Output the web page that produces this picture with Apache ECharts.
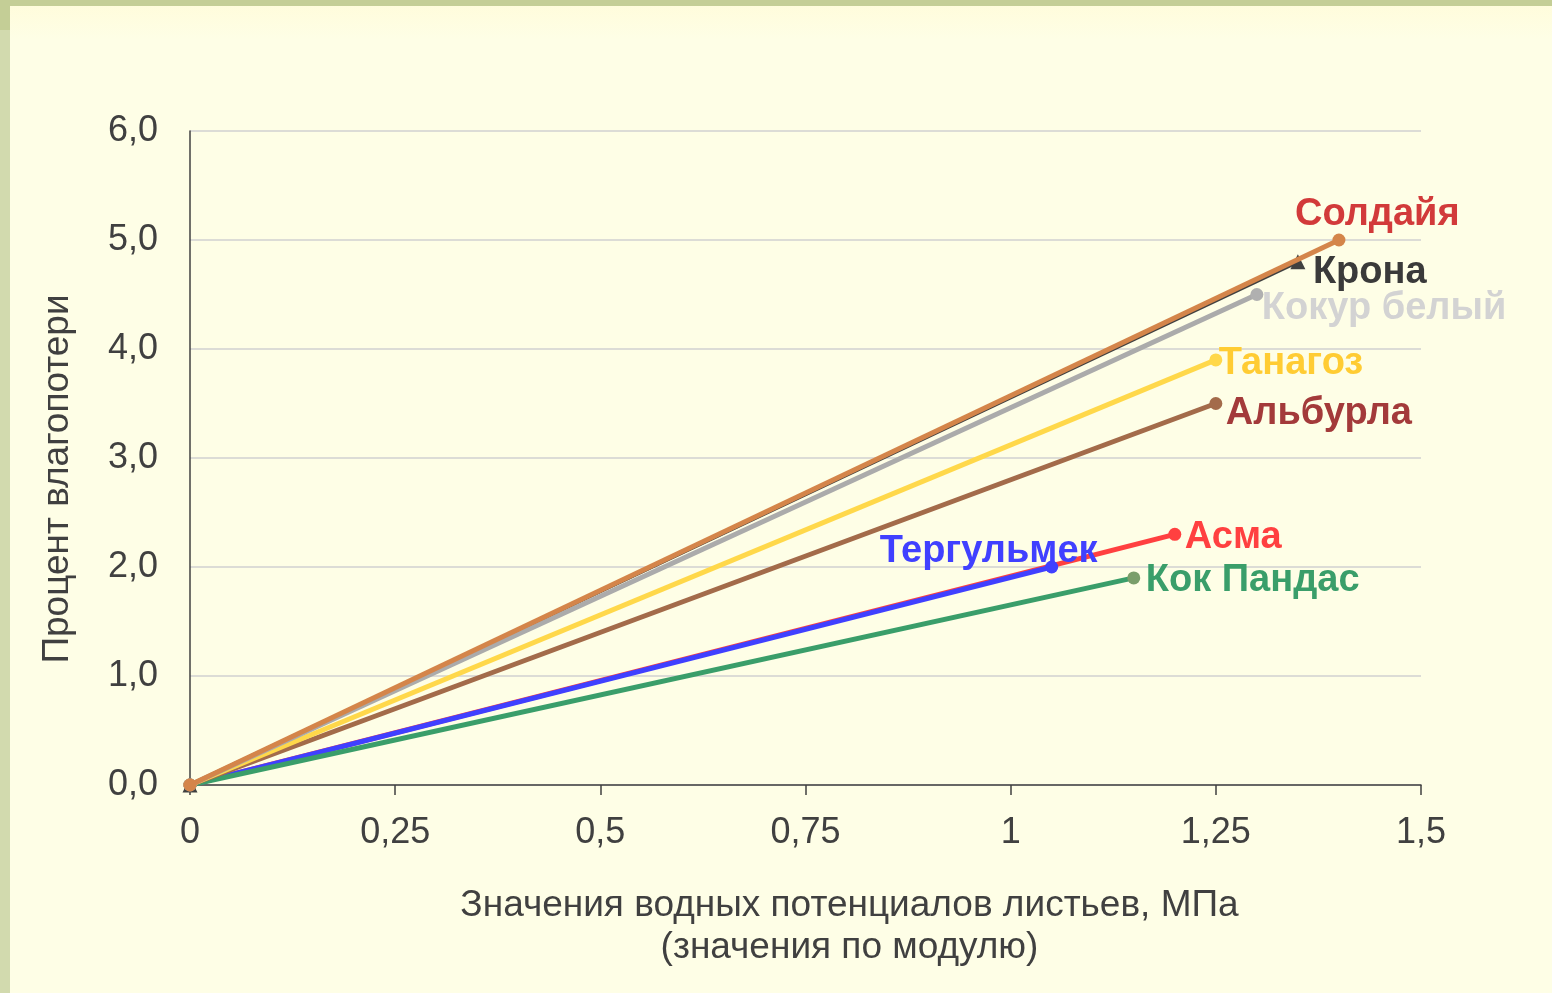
<!DOCTYPE html>
<html>
<head>
<meta charset="utf-8">
<script src="https://cdn.jsdelivr.net/npm/echarts@6/dist/echarts.min.js"></script>
<style>
  html, body { margin: 0; padding: 0; background: #fefee6; }
  #chart { width: 1552px; height: 993px; }
</style>
</head>
<body>
<div id="chart"></div>
<script>
// Cultivar names (end labels)
const cultivars = ['Асма', 'Тергульмек', 'Кок Пандас', 'Альбурла', 'Танагоз', 'Крона', 'Солдайя', 'Кокур белый'];
// Leaf water potential (absolute value, MPa): start and end of each line
const potentialStart = [0, 0, 0, 0, 0, 0, 0, 0];
const potentialEnd = [1.2, 1.05, 1.15, 1.25, 1.25, 1.35, 1.4, 1.3];
// Water loss, %: start and end of each line
const lossStart = [0, 0, 0, 0, 0, 0, 0, 0];
const lossEnd = [2.3, 2.0, 1.9, 3.5, 3.9, 4.8, 5.0, 4.5];
// Axis tick labels
const xTickLabels = { 0: '0', 0.25: '0,25', 0.5: '0,5', 0.75: '0,75', 1: '1', 1.25: '1,25', 1.5: '1,5' };

const lineColors = ['#ff4040', '#4040ff', '#3a9e6a', '#a36b4a', '#ffd84a', '#404040', '#d4854a', '#ababab'];
const markerColors = ['#ff4040', '#4040ff', '#7a9e6a', '#a36b4a', '#ffd84a', '#404040', '#d4854a', '#b0b0b0'];
const labelColors = ['#ff4040', '#4040ff', '#3a9e6a', '#a33a3a', '#ffcc33', '#3a3a3a', '#d23a3a', '#d3d3d3'];
const labelOffsets = [[10, 3], [-172, -15], [12, 3], [10, 10], [3, 4], [15, 11], [-44, -25], [5, 14]];
const lineWidths = [5, 5, 5, 5, 5, 4, 5, 5];
const symbols = ['circle', 'circle', 'circle', 'circle', 'circle', 'triangle', 'circle', 'circle'];
const lineZ = [2, 3, 4, 5, 6, 7, 9, 8];

const series = cultivars.map((name, i) => ({
  name: name,
  type: 'line',
  z: lineZ[i],
  data: [
    { value: [potentialStart[i], lossStart[i]], label: { show: false } },
    [potentialEnd[i], lossEnd[i]]
  ],
  symbol: symbols[i],
  symbolSize: symbols[i] === 'triangle' ? 15 : 13,
  lineStyle: { color: lineColors[i], width: lineWidths[i] },
  itemStyle: { color: markerColors[i] },
  label: {
    show: true,
    formatter: name,
    position: 'inside',
    align: 'left',
    verticalAlign: 'middle',
    offset: labelOffsets[i],
    color: labelColors[i],
    fontFamily: 'Liberation Sans, Arial, sans-serif',
    fontWeight: 'bold',
    fontSize: 38
  },
  emphasis: { disabled: true },
  animation: false
}));

const chart = echarts.init(document.getElementById('chart'), null, { renderer: 'canvas' });
chart.setOption({
  backgroundColor: {
    type: 'linear', x: 0, y: 0, x2: 0, y2: 1,
    colorStops: [
      { offset: 0, color: '#fffcda' },
      { offset: 0.04, color: '#fefee6' },
      { offset: 1, color: '#fefee6' }
    ]
  },
  animation: false,
  graphic: [
    { type: 'rect', left: 0, top: 0, shape: { width: 1552, height: 6 }, style: { fill: '#c4ce96' }, z: 100 },
    { type: 'rect', left: 0, top: 6, shape: { width: 10, height: 24 }, style: { fill: '#c4ce96' }, z: 100 },
    { type: 'rect', left: 0, top: 30, shape: { width: 10, height: 963 }, style: { fill: '#d2daae' }, z: 100 }
  ],
  grid: { left: 190, right: 131, top: 131, bottom: 208, containLabel: false },
  xAxis: {
    type: 'value',
    min: 0, max: 1.5, interval: 0.25,
    name: 'Значения водных потенциалов листьев, МПа\n(значения по модулю)',
    nameLocation: 'middle',
    nameGap: 100,
    nameTextStyle: {
      color: '#404040', fontSize: 37, lineHeight: 42,
      padding: [0, 0, 0, 88],
      fontFamily: 'Liberation Sans, Arial, sans-serif'
    },
    axisLine: { show: true, lineStyle: { color: '#404040', width: 1.5 } },
    axisTick: { show: true, length: 10, lineStyle: { color: '#404040', width: 1.5 } },
    axisLabel: {
      margin: 30, color: '#404040', fontSize: 36,
      fontFamily: 'Liberation Sans, Arial, sans-serif',
      formatter: v => xTickLabels[v] !== undefined ? xTickLabels[v] : String(v).replace('.', ',')
    },
    splitLine: { show: false }
  },
  yAxis: {
    type: 'value',
    min: 0, max: 6, interval: 1,
    name: 'Процент влагопотери',
    nameLocation: 'middle',
    nameGap: 114,
    nameRotate: 90,
    nameTextStyle: {
      color: '#404040', fontSize: 37,
      padding: [0, 42, 0, 0],
      fontFamily: 'Liberation Sans, Arial, sans-serif'
    },
    axisLine: { show: true, lineStyle: { color: '#404040', width: 1.5 } },
    axisTick: { show: false },
    axisLabel: {
      margin: 32, color: '#404040', fontSize: 36,
      fontFamily: 'Liberation Sans, Arial, sans-serif',
      formatter: v => v.toFixed(1).replace('.', ',')
    },
    splitLine: { show: true, lineStyle: { color: '#d0d0d0', width: 1.5 } }
  },
  series: series
});
</script>
</body>
</html>
